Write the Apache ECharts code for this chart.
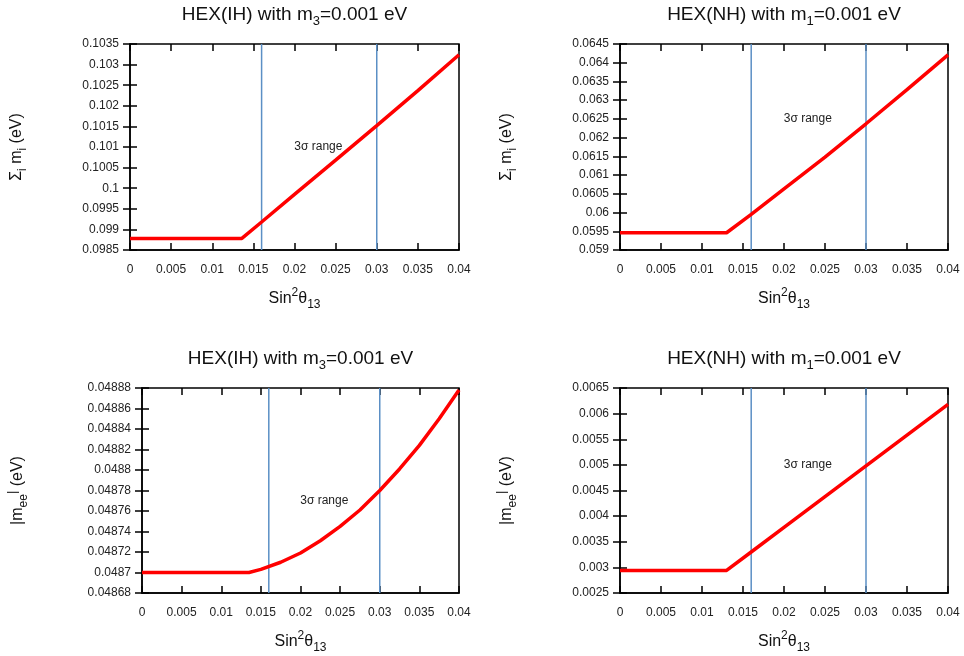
<!DOCTYPE html>
<html><head><meta charset="utf-8">
<script src="https://cdn.jsdelivr.net/npm/echarts@6/dist/echarts.min.js"></script>
<style>html,body{margin:0;padding:0;background:#fff}#c{width:964px;height:656px}</style>
</head><body><div id="c"></div>
<script>
// x values (sin^2 theta13) and y values for each curve
const xIH_sum  = [0, 0.0136, 0.016, 0.02, 0.025, 0.03, 0.035, 0.04];
const yIH_sum  = [0.09878, 0.09878, 0.09918, 0.09985, 0.10068, 0.10152, 0.10237, 0.10324];
const xNH_sum  = [0, 0.013, 0.016, 0.02, 0.025, 0.03, 0.035, 0.04];
const yNH_sum  = [0.05946, 0.05946, 0.05995, 0.06063, 0.06148, 0.06237, 0.06328, 0.06421];
const xIH_mee  = [0, 0.0135, 0.015, 0.0175, 0.02, 0.0225, 0.025, 0.0275, 0.03, 0.0325, 0.035, 0.0375, 0.04];
const yIH_mee  = [0.048700, 0.048700, 0.048703, 0.048710, 0.048719, 0.048731, 0.048745, 0.048761, 0.048780, 0.048801, 0.048824, 0.048850, 0.048878];
const xNH_mee  = [0, 0.013, 0.016, 0.02, 0.025, 0.03, 0.035, 0.04];
const yNH_mee  = [0.00294, 0.00294, 0.00330, 0.00378, 0.00438, 0.00498, 0.00558, 0.00618];
// 3 sigma range boundaries
const sigmaRange = [0.016, 0.03];
// axis ranges [min, max, interval]
const xRange = [0, 0.04, 0.005];
const yRanges = [[0.0985, 0.1035, 0.0005],[0.059, 0.0645, 0.0005],[0.04868, 0.04888, 0.00002],[0.0025, 0.0065, 0.0005]];
// "3σ range" label anchors [x, y]
const sigmaLabelPos = [[0.0229, 0.10100],[0.0229, 0.0625],[0.0230, 0.04877],[0.0229, 0.0050]];
const titles = [["HEX(IH) with m","3","=0.001 eV"],["HEX(NH) with m","1","=0.001 eV"],["HEX(IH) with m","3","=0.001 eV"],["HEX(NH) with m","1","=0.001 eV"]];

const grids = [
  {left:130, top:44, width:329, height:206},
  {left:620, top:44, width:328, height:206},
  {left:142, top:388, width:317, height:205},
  {left:620, top:388, width:328, height:205}
];
const data = [[xIH_sum,yIH_sum],[xNH_sum,yNH_sum],[xIH_mee,yIH_mee],[xNH_mee,yNH_mee]];
const yNames = ['{a|Σ}{s|i}{a| m}{s|i}{a| (eV)}','{a|Σ}{s|i}{a| m}{s|i}{a| (eV)}','{a||m}{s|ee}{u||}{a| (eV)}','{a||m}{s|ee}{u||}{a| (eV)}'];
const FONT = 'Liberation Sans, Arial, sans-serif';
const nameRich = {
  a:{fontSize:16, fontFamily:FONT, fontWeight:'normal', color:'#111', verticalAlign:'middle', lineHeight:24},
  s:{fontSize:12, fontFamily:FONT, fontWeight:'normal', color:'#111', verticalAlign:'bottom', lineHeight:24},
  u:{fontSize:13, fontFamily:FONT, fontWeight:'normal', color:'#111', verticalAlign:'top', lineHeight:20}
};
function fmt(v){ return String(+v.toPrecision(6)); }

const option = {
  animation:false,
  backgroundColor:'#fff',
  title: grids.map((g,i)=>({
    text:`{a|${titles[i][0]}}{s|${titles[i][1]}}{a|${titles[i][2]}}`,
    left: g.left + g.width/2 - 5, top: g.top - 47, textAlign:'center',
    textStyle:{fontWeight:'normal', rich:{
      a:{fontSize:19, fontFamily:FONT, fontWeight:'normal', color:'#111', verticalAlign:'middle', lineHeight:26},
      s:{fontSize:13, fontFamily:FONT, fontWeight:'normal', color:'#111', verticalAlign:'bottom', lineHeight:26}
    }}
  })),
  grid: grids.map(g=>Object.assign({show:true, borderColor:'#000', borderWidth:1.5, backgroundColor:'transparent'}, g)),
  xAxis: [],
  yAxis: [],
  series: []
};
grids.forEach((g,i)=>{
  const [ymin,ymax,yint] = yRanges[i];
  option.xAxis.push({
    type:'value', gridIndex:i, min:xRange[0], max:xRange[1], interval:xRange[2],
    position:'bottom',
    axisLine:{show:true, lineStyle:{color:'#000', width:1.5}},
    axisTick:{show:true, inside:true, length:7, lineStyle:{color:'#000', width:1.5}},
    axisLabel:{show:true, margin:14, fontSize:12, fontFamily:FONT, color:'#222', formatter:fmt,
      showMinLabel:true, showMaxLabel:true},
    splitLine:{show:false},
    name:'{a|Sin}{u|2}{a|θ}{s|13}', nameLocation:'middle', nameGap:37,
    nameTextStyle:{rich:Object.assign({}, nameRich, {u:{fontSize:12, fontFamily:FONT, color:'#111', verticalAlign:'top', lineHeight:24}})}
  });
  option.xAxis.push({
    type:'value', gridIndex:i, min:xRange[0], max:xRange[1], interval:xRange[2], position:'top',
    axisLine:{show:false}, axisTick:{show:true, inside:true, length:7, lineStyle:{color:'#000', width:1.5}},
    axisLabel:{show:false}, splitLine:{show:false}
  });
  option.yAxis.push({
    type:'value', gridIndex:i, min:ymin, max:ymax, interval:yint, position:'left',
    axisLine:{show:true, lineStyle:{color:'#000', width:1.5}},
    axisTick:{show:true, inside:true, length:7, lineStyle:{color:'#000', width:1.5}},
    axisLabel:{show:true, margin:11, fontSize:12, fontFamily:FONT, color:'#222', formatter:fmt,
      showMinLabel:true, showMaxLabel:true},
    splitLine:{show:false},
    name: yNames[i], nameLocation:'middle', nameRotate:90, nameGap: (i===2? 112: 101),
    nameTextStyle:{rich:nameRich}
  });
  option.yAxis.push({
    type:'value', gridIndex:i, min:ymin, max:ymax, interval:yint, position:'right',
    axisLine:{show:false}, axisTick:{show:true, inside:true, length:7, lineStyle:{color:'#000', width:1.5}},
    axisLabel:{show:false}, splitLine:{show:false}
  });
  // 3 sigma boundaries as vertical line series
  sigmaRange.forEach(v=>{
    option.series.push({
      type:'line', xAxisIndex:2*i, yAxisIndex:2*i, data:[[v, ymin],[v, ymax]],
      showSymbol:false, symbol:'none', silent:true,
      lineStyle:{color:'#5b8fc5', width:1.5}, z:3
    });
  });
  const [xs, ys] = data[i];
  option.series.push({
    type:'line', xAxisIndex:2*i, yAxisIndex:2*i, data: xs.map((x,k)=>[x, ys[k]]),
    showSymbol:false, symbol:'none', smooth:false, clip:true,
    lineStyle:{color:'#ff0000', width:3.5}, z:5,
    markPoint:{silent:true, symbol:'circle', symbolSize:0,
      data:[{coord:sigmaLabelPos[i], value:0}],
      label:{show:true, position:'inside', formatter:'3σ range', fontSize:12, fontFamily:FONT, color:'#222'}}
  });
});
const chart = echarts.init(document.getElementById('c'), null, {renderer:'canvas'});
chart.setOption(option);
</script></body></html>
